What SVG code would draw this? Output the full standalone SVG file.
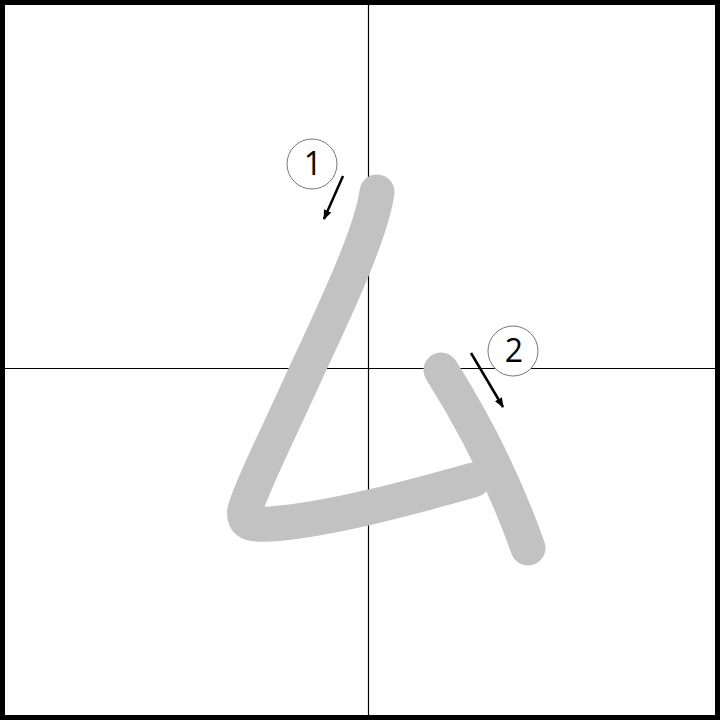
<svg xmlns="http://www.w3.org/2000/svg" width="720" height="720" viewBox="0 0 720 720">
<style>
.grid{stroke:#000;stroke-width:1.2;fill:none}
.stroke{fill:none;stroke:#c2c2c2;stroke-width:35;stroke-linecap:round;stroke-linejoin:round}
.num{fill:#fff;stroke:#777;stroke-width:1}
.lbl{font-family:"Open Sans","DejaVu Sans",sans-serif;font-size:32px;fill:#000;text-anchor:middle}
.arr{stroke:#000;stroke-width:2.5;fill:none;marker-end:url(#ah)}
</style>
<defs>
<marker id="ah" viewBox="0 0 10 10" refX="9" refY="5" markerWidth="4" markerHeight="4" orient="auto" markerUnits="strokeWidth">
<path d="M0,1 L10,5 L0,9 z" fill="#000"/>
</marker>
</defs>
<rect x="0" y="0" width="720" height="720" fill="#fff"/>
<g id="grid">
<line class="grid" x1="368.5" y1="0" x2="368.5" y2="720"/>
<line class="grid" x1="0" y1="368.5" x2="720" y2="368.5"/>
<rect x="2.5" y="2.5" width="715" height="715" fill="none" stroke="#000" stroke-width="5"/>
</g>
<g id="stroke1">
<path class="stroke" d="M377,192 C372,230 340,300 308,368 C280,430 250,490 245,510 C242,525 255,525 270,524 C330,520 420,495 473,480"/>
</g>
<g id="stroke2">
<path class="stroke" d="M441,370 Q495,455 528,548"/>
</g>
<g id="label1">
<circle class="num" cx="312" cy="164" r="25"/>
<text class="lbl" x="313" y="175">1</text>
</g>
<g id="label2">
<circle class="num" cx="513" cy="351" r="25"/>
<text class="lbl" x="514" y="362">2</text>
</g>
<g id="connectors">
<line class="arr" x1="343" y1="176" x2="324" y2="219"/>
<line class="arr" x1="471" y1="353" x2="503" y2="407"/>
</g>
</svg>
